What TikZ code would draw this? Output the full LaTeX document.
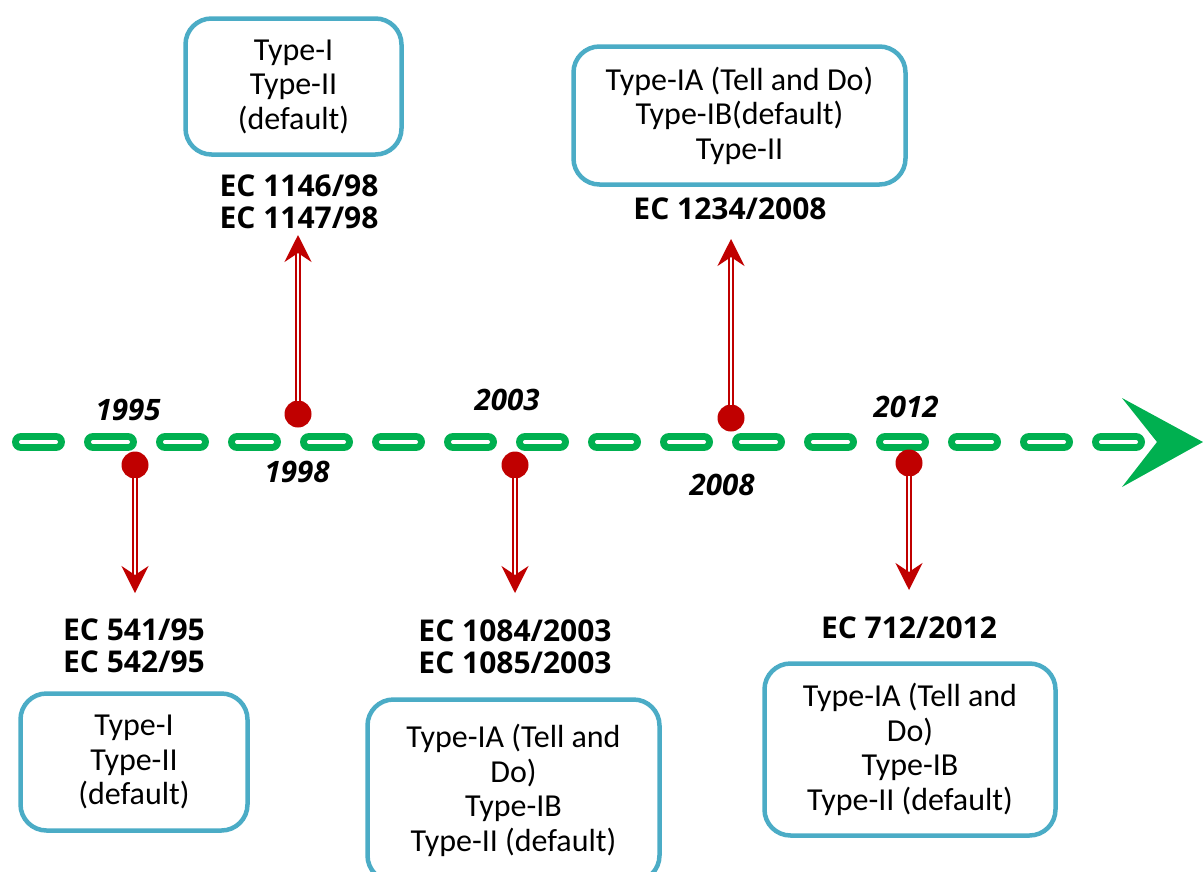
\documentclass[tikz,border=0pt]{standalone}
\usepackage{fontspec}
\setmainfont{Carlito}
\newfontfamily\ecfont{Open Sans}
\usetikzlibrary{arrows.meta}
\definecolor{tlgreen}{HTML}{00B050}
\definecolor{dotred}{HTML}{C00000}
\definecolor{boxblue}{HTML}{4BACC6}
\tikzset{
  infobox/.style={draw=boxblue, line width=4.5pt, rounded corners=26pt, align=center,
    inner sep=0pt, font=\fontsize{32}{34.5}\selectfont},
  eclabel/.style={align=center, inner sep=0pt, font=\ecfont\bfseries\fontsize{30}{32}\selectfont},
  yearlabel/.style={inner sep=0pt, font=\ecfont\bfseries\itshape\fontsize{29.5}{32}\selectfont},
  evdot/.style={circle, fill=dotred, minimum size=27pt, inner sep=0pt},
  evarrow/.style={draw=dotred, line width=2.3pt, double=white, double distance=1.2pt,
    -{Stealth[length=27pt, width=27pt, inset=9pt]}},
  timeline/.style={draw=tlgreen, line width=7pt, double=white, double distance=4pt,
    line cap=round, dash pattern=on 35pt off 37pt}
}
\begin{document}
\begin{tikzpicture}[x=1pt, y=-1pt]
\useasboundingbox (0,0) rectangle (1203,871);
% timeline
\coordinate (tlstart) at (21,442);
\coordinate (tlend) at (1136,442);
\draw[timeline] (tlstart) -- (tlend);
\fill[tlgreen] (1122,398) -- (1203,442) -- (1122,487) -- (1157,442) -- cycle;
% dots
\node[evdot] (d95) at (135,465) {};
\node[evdot] (d98) at (298,414) {};
\node[evdot] (d03) at (515,465) {};
\node[evdot] (d08) at (731,418) {};
\node[evdot] (d12) at (909,463) {};
% arrow tips
\coordinate (t95) at (135,593);
\coordinate (t98) at (298,235);
\coordinate (t03) at (515,593);
\coordinate (t08) at (731,239);
\coordinate (t12) at (909,590);
\draw[evarrow] (d95.center) ++(0,13) -- (t95);
\draw[evarrow] (d98.center) ++(0,-13) -- (t98);
\draw[evarrow] (d03.center) ++(0,13) -- (t03);
\draw[evarrow] (d08.center) ++(0,-13) -- (t08);
\draw[evarrow] (d12.center) ++(0,13) -- (t12);
% years
\node[yearlabel] (y95) at (128,410) {1995};
\node[yearlabel] (y98) at (297,472) {1998};
\node[yearlabel] (y03) at (507,400) {2003};
\node[yearlabel] (y08) at (722,485) {2008};
\node[yearlabel] (y12) at (906,407) {2012};
% EC labels
\node[eclabel] (e98) at (299,202) {EC 1146/98\\EC 1147/98};
\node[eclabel] (e08) at (730,209) {EC 1234/2008};
\node[eclabel] (e95) at (134,646) {EC 541/95\\EC 542/95};
\node[eclabel] (e03) at (515,647) {EC 1084/2003\\EC 1085/2003};
\node[eclabel] (e12) at (909,628) {EC 712/2012};
% boxes
\node[infobox, minimum width=216pt, minimum height=136pt] (b98) at (293.5,86.5) {Type-I\\Type-II\\(default)};
\node[infobox, minimum width=332pt, minimum height=138pt] (b08) at (739.5,115.5) {Type-IA (Tell and Do)\\Type-IB(default)\\Type-II};
\node[infobox, minimum width=227pt, minimum height=137pt] (b95) at (134,762) {Type-I\\Type-II\\(default)};
\node[infobox, minimum width=292pt, minimum height=182pt] (b03) at (513.5,790.5) {Type-IA (Tell and\\Do)\\Type-IB\\Type-II (default)};
\node[infobox, minimum width=291pt, minimum height=172pt] (b12) at (910,749.5) {Type-IA (Tell and\\Do)\\Type-IB\\Type-II (default)};
\end{tikzpicture}
\end{document}
